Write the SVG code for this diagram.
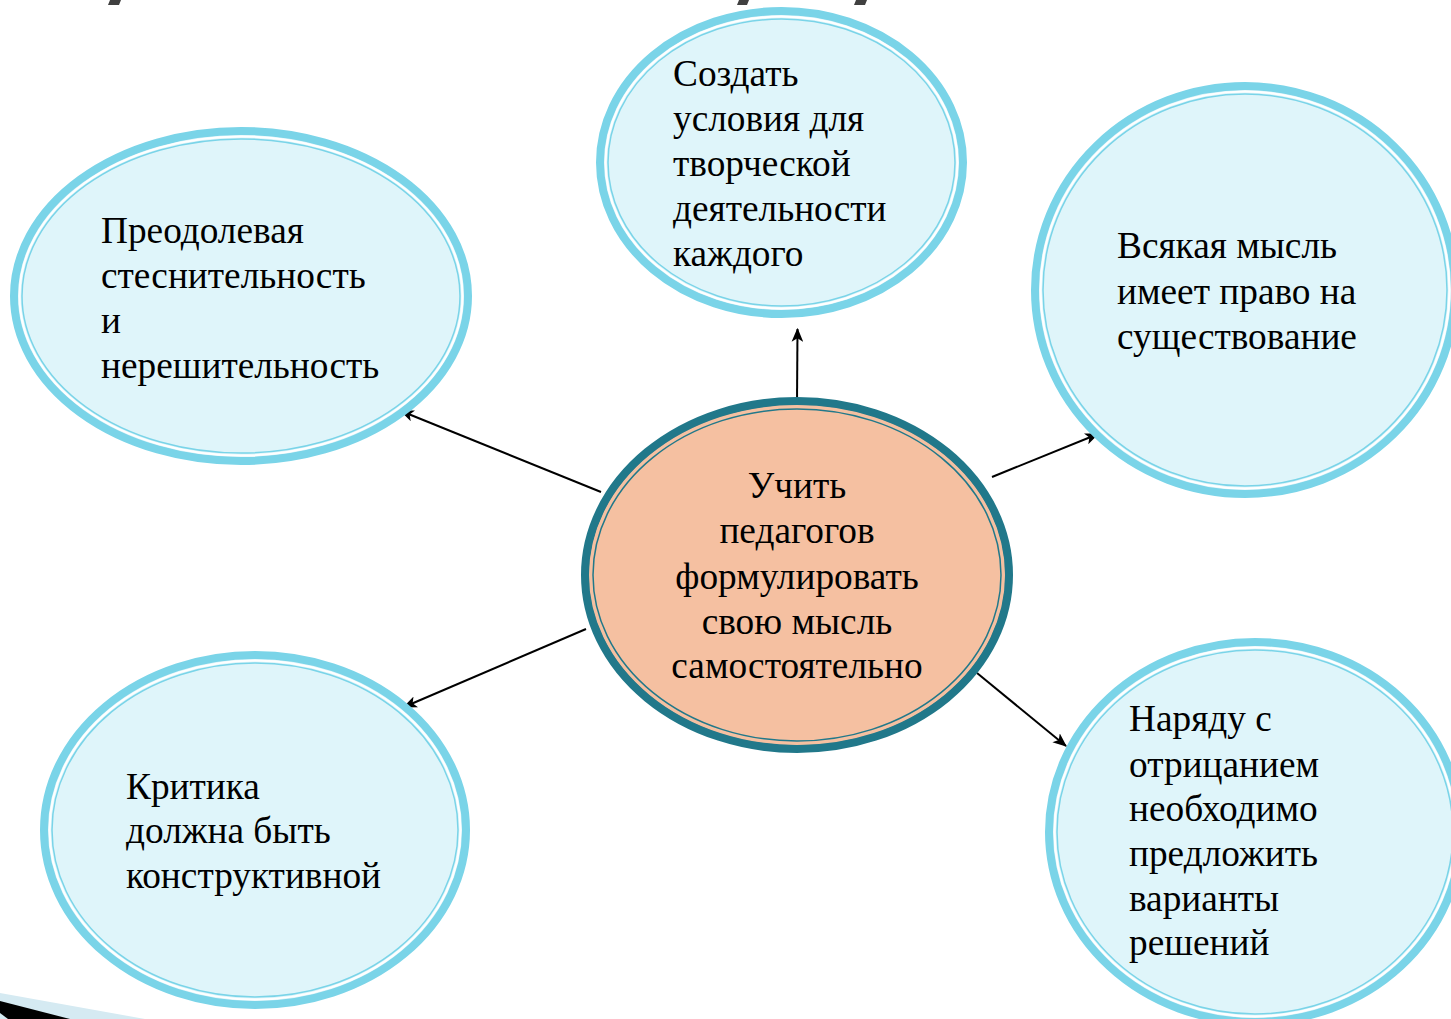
<svg xmlns="http://www.w3.org/2000/svg" width="1451" height="1019" viewBox="0 0 1451 1019">
<style>
.b1{fill:#DFF5FA;stroke:#7AD4E8;stroke-width:8}
.b2{fill:none;stroke:#FFFFFF;stroke-width:2}
.b3{fill:none;stroke:#7AD4E8;stroke-width:1.5}
.c1{fill:#F5C0A1;stroke:#21788A;stroke-width:8}
.c2{fill:none;stroke:#F5C0A1;stroke-width:2}
.c3{fill:none;stroke:#21788A;stroke-width:1.5}
text{font-family:"Liberation Serif","Times New Roman",serif;font-size:37.3px;fill:#000}
.conn line{stroke:#000;stroke-width:2;marker-end:url(#ah)}
</style>
<defs>
<marker id="ah" viewBox="0 0 12 10" refX="11" refY="5" markerWidth="7" markerHeight="6" orient="auto" markerUnits="strokeWidth">
<path d="M0,0 L12,5 L0,10 L3,5 z" fill="#000"/>
</marker>
</defs>
<rect width="1451" height="1019" fill="#FFFFFF"/>
<g id="title-fragments" fill="#404040">
<polygon points="110,0 121,0 119,5 108,5"/>
<polygon points="739,0 749,0 747,5 737,5"/>
<polygon points="856,0 867,0 865,5 854,5"/>
</g>
<g id="corner-swoosh">
<polygon points="0,993 145,1019 0,1019" fill="#D5EAF2"/>
<polygon points="0,1001 70,1019 0,1019" fill="#000"/>
<polygon points="0,1013 8,1019 0,1019" fill="#D5EAF2"/>
</g>
<g class="conn" id="connectors">
<line x1="601" y1="492" x2="401" y2="411"/>
<line x1="797" y1="402" x2="797.5" y2="329"/>
<line x1="992" y1="477" x2="1098" y2="434"/>
<line x1="586" y1="629" x2="404" y2="707"/>
<line x1="977" y1="673" x2="1066" y2="746"/>
</g>
<g id="node-top">
<ellipse class="b1" cx="781.5" cy="162.5" rx="181.5" ry="151.5"/>
<ellipse class="b2" cx="781.5" cy="162.5" rx="176" ry="146"/>
<ellipse class="b3" cx="781.5" cy="162.5" rx="173.5" ry="143.5"/>
<text x="673" y="86">Создать</text>
<text x="673" y="131">условия для</text>
<text x="673" y="176">творческой</text>
<text x="673" y="221">деятельности</text>
<text x="673" y="266">каждого</text>
</g>
<g id="node-left">
<ellipse class="b1" cx="241" cy="296" rx="227" ry="165"/>
<ellipse class="b2" cx="241" cy="296" rx="221.5" ry="159.5"/>
<ellipse class="b3" cx="241" cy="296" rx="219" ry="157"/>
<text x="101" y="243">Преодолевая</text>
<text x="101" y="288">стеснительность</text>
<text x="101" y="333">и</text>
<text x="101" y="378">нерешительность</text>
</g>
<g id="node-right">
<ellipse class="b1" cx="1245" cy="290" rx="210" ry="204"/>
<ellipse class="b2" cx="1245" cy="290" rx="204.5" ry="198.5"/>
<ellipse class="b3" cx="1245" cy="290" rx="202" ry="196"/>
<text x="1117" y="258">Всякая мысль</text>
<text x="1117" y="304">имеет право на</text>
<text x="1117" y="349">существование</text>
</g>
<g id="node-bottom-left">
<ellipse class="b1" cx="255" cy="830" rx="211" ry="175"/>
<ellipse class="b2" cx="255" cy="830" rx="205.5" ry="169.5"/>
<ellipse class="b3" cx="255" cy="830" rx="203" ry="167"/>
<text x="126" y="799">Критика</text>
<text x="126" y="843">должна быть</text>
<text x="126" y="888">конструктивной</text>
</g>
<g id="node-bottom-right">
<ellipse class="b1" cx="1255" cy="832" rx="206" ry="190"/>
<ellipse class="b2" cx="1255" cy="832" rx="200.5" ry="184.5"/>
<ellipse class="b3" cx="1255" cy="832" rx="198" ry="182"/>
<text x="1129" y="731">Наряду с</text>
<text x="1129" y="777">отрицанием</text>
<text x="1129" y="821">необходимо</text>
<text x="1129" y="866">предложить</text>
<text x="1129" y="911">варианты</text>
<text x="1129" y="955">решений</text>
</g>
<g id="node-center">
<ellipse class="c1" cx="797" cy="575" rx="212" ry="174"/>
<ellipse class="c2" cx="797" cy="575" rx="206.5" ry="168.5"/>
<ellipse class="c3" cx="797" cy="575" rx="204" ry="166"/>
<g text-anchor="middle">
<text x="797" y="498">Учить</text>
<text x="797" y="543">педагогов</text>
<text x="797" y="589">формулировать</text>
<text x="797" y="634">свою мысль</text>
<text x="797" y="678">самостоятельно</text>
</g>
</g>
</svg>
